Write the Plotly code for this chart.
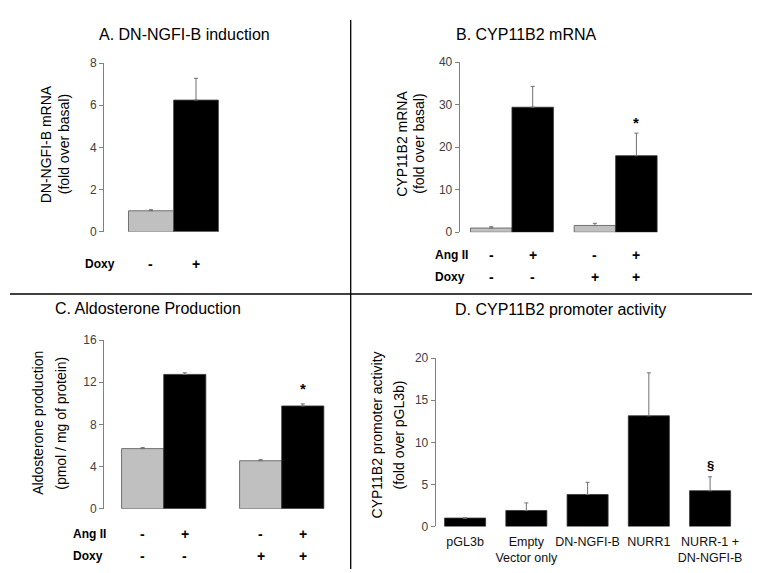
import plotly.graph_objects as go

W, H = 760, 573
FONT = "Liberation Sans, Arial, sans-serif"

# ---------------- data ----------------
# A. DN-NGFI-B induction
a_doxy = ["-", "+"]
a_vals = [1.0, 6.25]
a_err = [0.05, 1.03]

# B. CYP11B2 mRNA (groups by Doxy; series by Ang II)
b_groups = ["Doxy -", "Doxy +"]
b_doxy = ["-", "+"]
b_angii = ["-", "+"]
b_minus_vals = [1.0, 1.6]
b_minus_err = [0.3, 0.5]
b_plus_vals = [29.4, 18.0]
b_plus_err = [4.9, 5.3]

# C. Aldosterone production
c_groups = ["Doxy -", "Doxy +"]
c_doxy = ["-", "+"]
c_angii = ["-", "+"]
c_minus_vals = [5.7, 4.55]
c_minus_err = [0.1, 0.1]
c_plus_vals = [12.75, 9.75]
c_plus_err = [0.15, 0.2]

# D. CYP11B2 promoter activity
d_labels = ["pGL3b", "Empty<br>Vector only", "DN-NGFI-B", "NURR1", "NURR-1 +<br>DN-NGFI-B"]
d_vals = [1.0, 1.9, 3.8, 13.15, 4.25]
d_err = [0.0, 0.9, 1.45, 5.1, 1.65]

# ---------------- helpers ----------------
def px_x(p):
    return p / W

def px_y(p):
    return 1 - p / H

GRAY = "#c0c0c0"
BLACK = "#000000"
ERRC = "#707070"

def err(e):
    return dict(type="data", symmetric=False, array=e, arrayminus=[0] * len(e),
                color=ERRC, thickness=1, width=2)

fig = go.Figure()

# Panel A: single trace, two bars
fig.add_trace(go.Bar(x=a_doxy, y=a_vals, error_y=err(a_err), width=1.0,
                     marker=dict(color=[GRAY, BLACK], line=dict(color="#555555", width=0.8)),
                     xaxis="x", yaxis="y", showlegend=False))

# Panel B
wb = 0.40
fig.add_trace(go.Bar(x=b_groups, y=b_minus_vals, error_y=err(b_minus_err), width=wb, offset=-wb,
                     marker=dict(color=GRAY, line=dict(color="#555555", width=0.8)),
                     xaxis="x2", yaxis="y2", showlegend=False))
fig.add_trace(go.Bar(x=b_groups, y=b_plus_vals, error_y=err(b_plus_err), width=wb, offset=0,
                     marker=dict(color=BLACK, line=dict(color="#333333", width=0.8)),
                     xaxis="x2", yaxis="y2", showlegend=False))

# Panel C
wc = 0.357
fig.add_trace(go.Bar(x=c_groups, y=c_minus_vals, error_y=err(c_minus_err), width=wc, offset=-wc,
                     marker=dict(color=GRAY, line=dict(color="#555555", width=0.8)),
                     xaxis="x3", yaxis="y3", showlegend=False))
fig.add_trace(go.Bar(x=c_groups, y=c_plus_vals, error_y=err(c_plus_err), width=wc, offset=0,
                     marker=dict(color=BLACK, line=dict(color="#333333", width=0.8)),
                     xaxis="x3", yaxis="y3", showlegend=False))

# Panel D
fig.add_trace(go.Bar(x=d_labels, y=d_vals, error_y=err(d_err), width=0.67,
                     marker=dict(color=BLACK, line=dict(color="#333333", width=0.8)),
                     xaxis="x4", yaxis="y4", showlegend=False))

tickfont = dict(family=FONT, size=12, color="#404040")

def yax(dom, rng, dtick, anchor):
    return dict(domain=dom, range=rng, dtick=dtick, anchor=anchor, showgrid=False, zeroline=False,
                showline=True, linecolor="#808080", linewidth=1, ticks="outside", ticklen=4,
                tickcolor="#808080", tickfont=tickfont)

def xax(dom, rng, anchor, show=False):
    return dict(domain=dom, range=rng, anchor=anchor, showgrid=False, zeroline=False,
                showline=False, ticks="", showticklabels=show, type="category", tickangle=0,
                ticklabelstandoff=6,
                tickfont=dict(family=FONT, size=12.5, color="#111111"))

layout = dict(
    width=W, height=H, margin=dict(l=0, r=0, t=0, b=0),
    paper_bgcolor="white", plot_bgcolor="white", barmode="overlay",
    font=dict(family=FONT),
    xaxis=xax([px_x(96), px_x(230)], [-1.044, 1.933], "y"),
    yaxis=yax([px_y(222.3), px_y(49.3)], [0, 8], 2, "x"),
    xaxis2=xax([px_x(451.7), px_x(660)], [-0.504, 1.505], "y2"),
    yaxis2=yax([px_y(222.7), px_y(48.3)], [0, 40], 10, "x2"),
    xaxis3=xax([px_x(96), px_x(330)], [-0.506, 1.477], "y3"),
    yaxis3=yax([px_y(506), px_y(333.3)], [0, 16], 4, "x3"),
    xaxis4=xax([px_x(427.7), px_x(740)], [-0.48, 4.619], "y4", show=True),
    yaxis4=yax([px_y(524.3), px_y(351.7)], [0, 20], 5, "x4"),
)
fig.update_layout(**layout)

ann = []
def text(x, y, s, size=14, bold=False, angle=0, xanchor="center", color="black"):
    ann.append(dict(x=px_x(x), y=px_y(y), xref="paper", yref="paper", text=f"<b>{s}</b>" if bold else s,
                    showarrow=False, textangle=angle, xanchor=xanchor, yanchor="middle",
                    font=dict(family=FONT, size=size, color=color)))

# titles
text(176, 20, "A. DN-NGFI-B induction", size=16)
text(518, 20, "B. CYP11B2 mRNA", size=16)
text(140, 301, "C. Aldosterone Production", size=16)
text(552, 302, "D. CYP11B2 promoter activity", size=16)

# y-axis titles
text(38, 132.5, "DN-NGFI-B mRNA", angle=-90)
text(56, 132.5, "(fold over basal)", angle=-90)
text(394, 132, "CYP11B2 mRNA", angle=-90)
text(411, 132, "(fold over basal)", angle=-90)
text(30, 418, "Aldosterone production", angle=-90)
text(53, 418, "(pmol / mg of protein)", angle=-90)
text(369, 431, "CYP11B2 promoter activity", angle=-90)
text(391, 431, "(fold over pGL3b)", angle=-90)

# row labels
text(75, 255, "Doxy", size=12, bold=True, xanchor="left")
text(425, 246, "Ang II", size=12, bold=True, xanchor="left")
text(425, 269, "Doxy", size=12, bold=True, xanchor="left")
text(63, 532, "Ang II", size=12, bold=True, xanchor="left")
text(63, 555, "Doxy", size=12, bold=True, xanchor="left")

def sign(xref, x, ypx, s):
    ann.append(dict(x=x, y=px_y(ypx), xref=xref, yref="paper", text=f"<b>{s}</b>", showarrow=False,
                    xanchor="center", yanchor="middle", font=dict(family=FONT, size=14, color="black")))

# panel A signs
for i, s in enumerate(a_doxy):
    sign("x", i, 255, s)
# panel B signs
for gi in range(len(b_groups)):
    for si, s in enumerate(b_angii):
        xc = gi + (si - 0.5) * wb
        sign("x2", xc, 246, s)
        sign("x2", xc, 269, b_doxy[gi])
# panel C signs
for gi in range(len(c_groups)):
    for si, s in enumerate(c_angii):
        xc = gi + (si - 0.5) * wc
        sign("x3", xc, 532, s)
        sign("x3", xc, 555, c_doxy[gi])

# significance marks
ann.append(dict(x=1 + 0.5 * wb, y=b_plus_vals[1] + b_plus_err[1], xref="x2", yref="y2", text="<b>*</b>",
                showarrow=False, yanchor="bottom", yshift=0, font=dict(family=FONT, size=15, color="black")))
ann.append(dict(x=1 + 0.5 * wc, y=c_plus_vals[1] + c_plus_err[1], xref="x3", yref="y3", text="<b>*</b>",
                showarrow=False, yanchor="bottom", yshift=5, font=dict(family=FONT, size=15, color="black")))
ann.append(dict(x=4, y=d_vals[4] + d_err[4], xref="x4", yref="y4", text="<b>§</b>",
                showarrow=False, yanchor="middle", yshift=11, font=dict(family=FONT, size=13, color="black")))

fig.update_layout(annotations=ann)

# divider lines
fig.update_layout(shapes=[
    dict(type="line", xref="paper", yref="paper", x0=px_x(342.7), x1=px_x(342.7), y0=px_y(5), y1=px_y(568),
         line=dict(color="black", width=1.3)),
    dict(type="line", xref="paper", yref="paper", x0=px_x(2), x1=px_x(753), y0=px_y(286), y1=px_y(286),
         line=dict(color="black", width=1.3)),
])

fig.write_html("out.html")
